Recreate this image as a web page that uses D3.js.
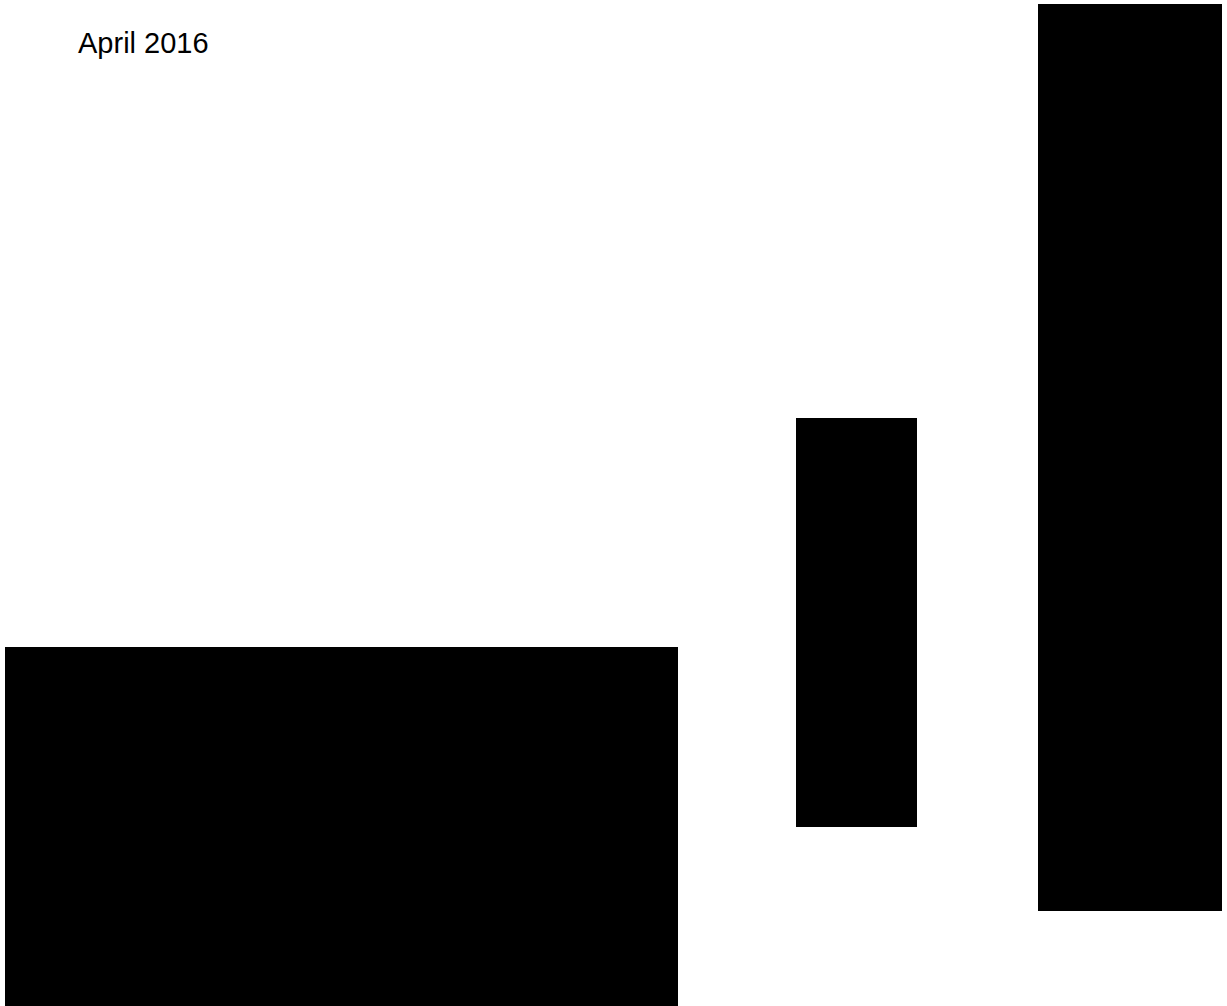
<!DOCTYPE html>
<html>
<head>
<meta charset="utf-8">
<script src="https://cdn.jsdelivr.net/npm/d3@7"></script>
<style>
  html, body { margin: 0; padding: 0; background: #fff; overflow: hidden; }
</style>
</head>
<body>
<script>
const title = "April 2016";

// rectangle extents in data units (page space 0..1227 x 0..1006)
const blockNames = ["left", "middle", "right"];
const blockX0 = [5, 796, 1038];
const blockX1 = [678, 917, 1222];
const blockY0 = [647, 418, 4];
const blockY1 = [1006, 827, 911];

const width = 1227, height = 1006;

const x = d3.scaleLinear().domain([0, 1227]).range([0, width]);
const y = d3.scaleLinear().domain([0, 1006]).range([0, height]);

const svg = d3.select("body").append("svg")
  .attr("width", width)
  .attr("height", height);

const blocks = blockNames.map((name, i) => ({
  name, x0: blockX0[i], x1: blockX1[i], y0: blockY0[i], y1: blockY1[i]
}));

svg.selectAll("rect.block")
  .data(blocks)
  .enter()
  .append("rect")
  .attr("class", "block")
  .attr("x", d => x(d.x0))
  .attr("y", d => y(d.y0))
  .attr("width", d => x(d.x1) - x(d.x0))
  .attr("height", d => y(d.y1) - y(d.y0))
  .attr("fill", "#000");

svg.append("text")
  .attr("x", 78)
  .attr("y", 53)
  .attr("font-family", "'Liberation Sans', Arial, sans-serif")
  .attr("font-size", 29)
  .attr("fill", "#000")
  .text(title);
</script>
</body>
</html>
